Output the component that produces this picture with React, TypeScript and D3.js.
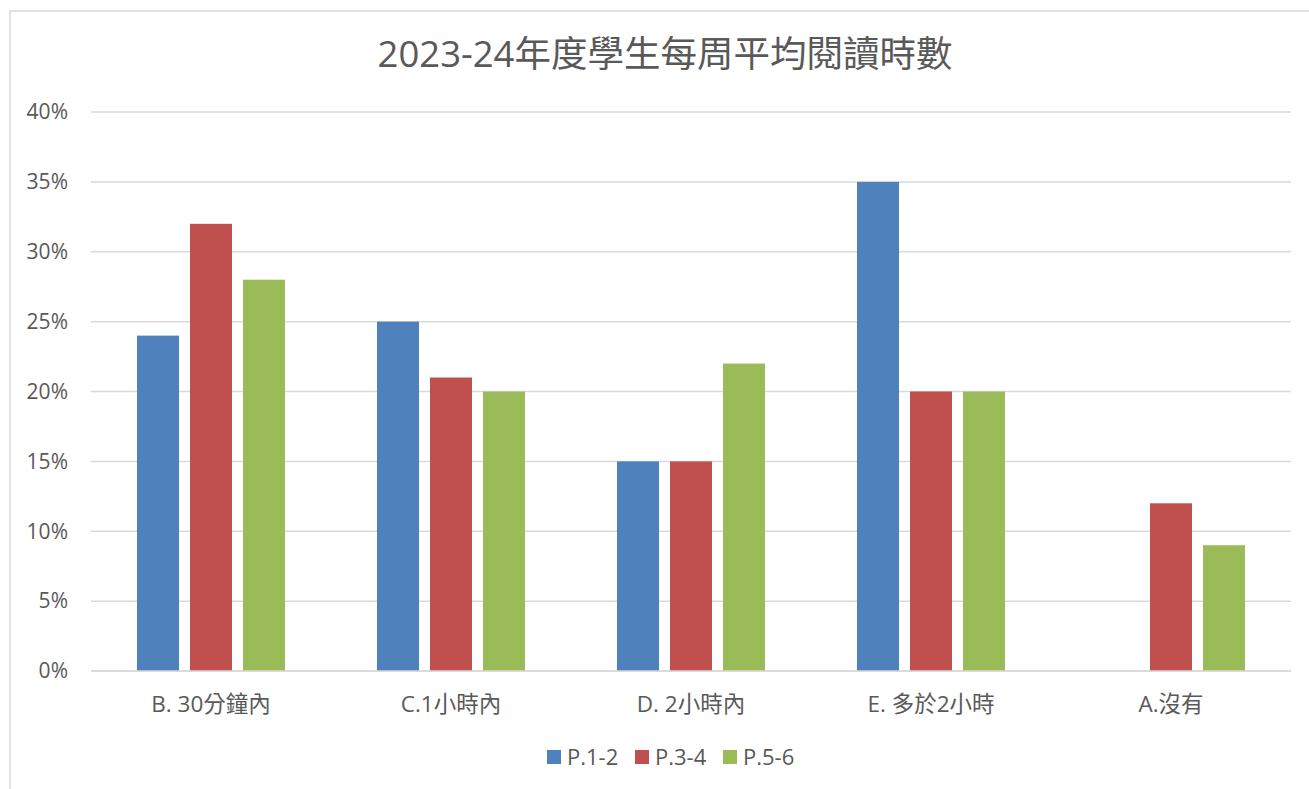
import React from "react";
import * as d3 from "d3";

const categories = ["B. 30分鐘內", "C.1小時內", "D. 2小時內", "E. 多於2小時", "A.沒有"];
const seriesNames = ["P.1-2", "P.3-4", "P.5-6"];
const p12 = [24, 25, 15, 35, 0];
const p34 = [32, 21, 15, 20, 12];
const p56 = [28, 20, 22, 20, 9];
const yTicks = [0, 5, 10, 15, 20, 25, 30, 35, 40];
const colors = ["#4f81bd", "#c0504d", "#9bbb59"];

const W = 1309;
const H = 789;
const FONT = "'Open Sans', 'Noto Sans CJK TC', sans-serif";
const TEXT = "#595959";

export default function App() {
  const values = [p12, p34, p56];

  const x0 = d3.scaleBand<string>().domain(categories).range([91, 1291]);
  const x1 = d3
    .scaleBand<string>()
    .domain(seriesNames)
    .range([46, 194])
    .paddingInner(11 / 53)
    .paddingOuter(0);
  const y = d3.scaleLinear().domain([0, 40]).range([671, 112]);

  // legend layout
  const legendX = [547, 635, 723];

  return (
    <svg
      width={W}
      height={H}
      style={{ position: "absolute", left: 0, top: 0, background: "#fff" }}
      fontFamily={FONT}
    >
      <rect x={10} y={11} width={W + 10} height={H + 10} fill="#fff" stroke="#d9d9d9" strokeWidth={1.5} />

      <text x={665} y={67} textAnchor="middle" fontSize={36.5} fill={TEXT}>
        2023-24年度學生每周平均閱讀時數
      </text>

      {/* gridlines + y labels */}
      {yTicks.map((t) => (
        <g key={t}>
          <line x1={91} x2={1291} y1={y(t)} y2={y(t)} stroke="#d9d9d9" strokeWidth={1.5} />
          <text x={68} y={y(t)} dy="0.35em" textAnchor="end" fontSize={21} fill={TEXT}>
            {t}%
          </text>
        </g>
      ))}

      {/* bars */}
      {categories.map((c, ci) => (
        <g key={c} transform={`translate(${x0(c)},0)`}>
          {seriesNames.map((s, si) => {
            const v = values[si][ci];
            if (!v) return null;
            return (
              <rect
                key={s}
                x={x1(s)}
                y={y(v)}
                width={x1.bandwidth()}
                height={y(0) - y(v)}
                fill={colors[si]}
              />
            );
          })}
        </g>
      ))}

      {/* baseline */}
      <line x1={91} x2={1291} y1={y(0)} y2={y(0)} stroke="#d9d9d9" strokeWidth={1.5} />

      {/* category labels */}
      {categories.map((c) => (
        <text
          key={c}
          x={(x0(c) ?? 0) + x0.bandwidth() / 2}
          y={704}
          dy="0.35em"
          textAnchor="middle"
          fontSize={22.5}
          fill={TEXT}
        >
          {c}
        </text>
      ))}

      {/* legend */}
      {seriesNames.map((s, i) => (
        <g key={s} transform={`translate(${legendX[i]},757)`}>
          <rect x={0} y={-7} width={14} height={14} fill={colors[i]} />
          <text x={20} y={0} dy="0.35em" fontSize={22} fill={TEXT}>
            {s}
          </text>
        </g>
      ))}
    </svg>
  );
}
